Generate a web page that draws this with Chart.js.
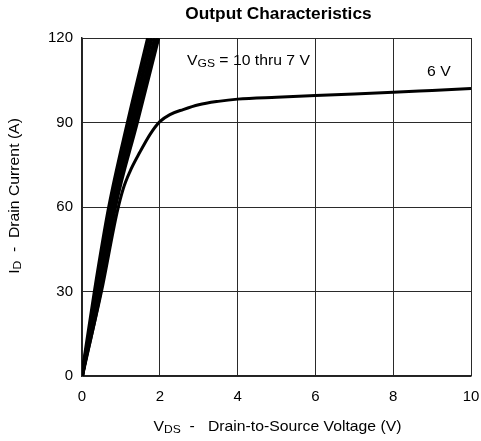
<!DOCTYPE html>
<html>
<head>
<meta charset="utf-8">
<script src="https://cdn.jsdelivr.net/npm/chart.js@4/dist/chart.umd.min.js"></script>
<style>
  html, body { margin: 0; padding: 0; background: #fff; }
  #wrap { width: 481px; height: 441px; }
</style>
</head>
<body>
<div id="wrap"><canvas id="c" width="481" height="441"></canvas></div>
<script>
// Drain current levels (A) for the steep, linear-region curves
const steepCurrent = [0, 30, 60, 90, 120];
// Drain-to-source voltage (V) at those currents, per gate voltage
const vds10V = [0, 0.33, 0.70, 1.18, 1.70];
const vds9V  = [0, 0.38, 0.75, 1.26, 1.79];
const vds8V  = [0, 0.42, 0.80, 1.34, 1.88];
const vds7V  = [0, 0.47, 0.85, 1.41, 1.96];

// VGS = 6 V curve
const vds6V = [0, 0.50, 0.90, 1.06, 1.23, 1.49, 1.75, 2.0, 2.26, 2.6, 3.0, 3.5, 4, 5, 6, 7, 8, 9, 10];
const id6V  = [0, 30, 58, 66.5, 72.5, 79.5, 85.8, 90.3, 92.8, 94.6, 96.3, 97.5, 98.3, 99.0, 99.6, 100.1, 100.7, 101.4, 102.1];

// Axis ticks
const xTicks = [0, 2, 4, 6, 8, 10];
const yTicks = [0, 30, 60, 90, 120];

const FONT = '"Liberation Sans", Arial, sans-serif';
const STRETCH = 1.05;

function pts(xs, ys) { return xs.map((x, i) => ({ x: x, y: ys[i] })); }

function lineSet(data, width) {
  return {
    data: data,
    showLine: true,
    borderColor: '#000',
    borderWidth: width,
    pointRadius: 0,
    cubicInterpolationMode: 'monotone',
    clip: 0
  };
}

// Draws text with a lowered, smaller subscript part, slightly widened
function drawParts(ctx, parts, x, y) {
  ctx.save();
  ctx.translate(x, y);
  ctx.scale(STRETCH, 1);
  let cx = 0;
  for (const p of parts) {
    ctx.font = (p.sub ? '11.5px ' : '15px ') + FONT;
    ctx.fillText(p.t, cx, p.sub ? 3 : 0);
    cx += ctx.measureText(p.t).width;
  }
  ctx.restore();
}
function partsWidth(ctx, parts) {
  let w = 0;
  for (const p of parts) {
    ctx.font = (p.sub ? '11.5px ' : '15px ') + FONT;
    w += ctx.measureText(p.t).width;
  }
  return w * STRETCH;
}

const textPlugin = {
  id: 'texts',
  afterDraw(chart) {
    const ctx = chart.ctx;
    const xs = chart.scales.x, ys = chart.scales.y;
    const area = chart.chartArea;
    ctx.save();
    ctx.fillStyle = '#000';
    ctx.textBaseline = 'middle';
    ctx.textAlign = 'left';

    // Title
    ctx.save();
    ctx.translate((area.left + area.right) / 2 + 2, 15);
    ctx.scale(1.08, 1);
    ctx.font = 'bold 16px ' + FONT;
    ctx.textAlign = 'center';
    ctx.fillText('Output Characteristics', 0, 0);
    ctx.restore();

    // Curve labels
    drawParts(ctx, [{ t: 'V' }, { t: 'GS', sub: true }, { t: ' = 10 thru 7 V' }],
      xs.getPixelForValue(2.70), ys.getPixelForValue(111.8));
    drawParts(ctx, [{ t: '6 V' }], xs.getPixelForValue(8.87), ys.getPixelForValue(108));

    // X axis title
    const xParts = [{ t: 'V' }, { t: 'DS', sub: true }, { t: '  -   Drain-to-Source Voltage (V)' }];
    const xw = partsWidth(ctx, xParts);
    drawParts(ctx, xParts, (area.left + area.right) / 2 - xw / 2 + 1, 427);

    // Y axis title (rotated)
    const yParts = [{ t: 'I' }, { t: 'D', sub: true }, { t: '  -  Drain Current (A)' }];
    const yw = partsWidth(ctx, yParts);
    ctx.translate(15, 196);
    ctx.rotate(-Math.PI / 2);
    drawParts(ctx, yParts, -yw / 2, 0);
    ctx.restore();
  }
};

new Chart(document.getElementById('c'), {
  type: 'scatter',
  data: {
    datasets: [
      lineSet(pts(vds10V, steepCurrent), 4),
      lineSet(pts(vds9V, steepCurrent), 4),
      lineSet(pts(vds8V, steepCurrent), 4),
      lineSet(pts(vds7V, steepCurrent), 4),
      lineSet(pts(vds6V, id6V), 3)
    ]
  },
  options: {
    responsive: false,
    animation: false,
    layout: { padding: { top: 38, right: 10, left: 0, bottom: 0 } },
    plugins: { legend: { display: false }, tooltip: { enabled: false }, title: { display: false } },
    scales: {
      x: {
        type: 'linear', min: 0, max: 10,
        afterBuildTicks(scale) { scale.ticks = xTicks.map(v => ({ value: v })); },
        afterFit(scale) { scale.height = 65; scale.paddingLeft = 0; scale.paddingRight = 0; },
        grid: { color: '#2a2a2a', lineWidth: 1, drawTicks: false },
        border: { color: '#222', width: 1.5 },
        ticks: { color: '#000', font: { family: FONT, size: 15 }, padding: 12, maxRotation: 0 }
      },
      y: {
        type: 'linear', min: 0, max: 120,
        afterBuildTicks(scale) { scale.ticks = yTicks.map(v => ({ value: v })); },
        afterFit(scale) { scale.width = 82; scale.paddingTop = 0; scale.paddingBottom = 0; },
        grid: { color: '#2a2a2a', lineWidth: 1, drawTicks: false },
        border: { color: '#222', width: 1.5 },
        ticks: { color: '#000', font: { family: FONT, size: 15 }, padding: 9 }
      }
    }
  },
  plugins: [textPlugin]
});
</script>
</body>
</html>
